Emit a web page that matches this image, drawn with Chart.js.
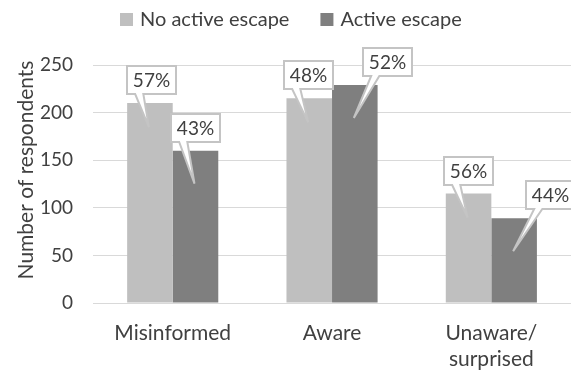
<!DOCTYPE html>
<html>
<head>
<meta charset="utf-8">
<script src="https://cdn.jsdelivr.net/npm/chart.js@4.4.1/dist/chart.umd.min.js"></script>
<style>
  html, body { margin: 0; padding: 0; background: #fff; }
</style>
</head>
<body>
<canvas id="escapeChart" width="571" height="374"></canvas>
<script>
const categories = ['Misinformed', 'Aware', ['Unaware/', 'surprised']];
const seriesNames = ['No active escape', 'Active escape'];
const noActiveEscape = [210, 215, 115];
const activeEscape = [160, 229, 89];
const yTicks = [0, 50, 100, 150, 200, 250];

const FONT = 'Lato, "Noto Sans", sans-serif';
const TEXT = '#404040';
const barColours = ['#bfbfbf', '#7f7f7f'];

// callout boxes: sideways shift per bar, and how deep the pointer reaches into the bar
const calloutShift = [[2, -1, 0], [0, 33, 36]];
const calloutDepth = [24, 33];

function share(d, i) {
  const total = noActiveEscape[i] + activeEscape[i];
  const v = d === 0 ? noActiveEscape[i] : activeEscape[i];
  return Math.round(v / total * 100) + '%';
}

const callouts = {
  id: 'callouts',
  afterDatasetsDraw(chart) {
    const ctx = chart.ctx;
    ctx.save();
    ctx.font = '19px ' + FONT;
    chart.data.datasets.forEach((ds, d) => {
      chart.getDatasetMeta(d).data.forEach((bar, i) => {
        const text = share(d, i);
        const w = Math.round(ctx.measureText(text).width + 12);
        const h = 28;
        const left = Math.round(bar.x + calloutShift[d][i] - w / 2);
        const bottom = Math.round(bar.y - 9);
        const top = bottom - h;
        const tipX = bar.x - 1, tipY = bar.y + calloutDepth[d];
        ctx.beginPath();
        ctx.moveTo(left, top);
        ctx.lineTo(left + w, top);
        ctx.lineTo(left + w, bottom);
        ctx.lineTo(left + w / 3, bottom);
        ctx.lineTo(tipX, tipY);
        ctx.lineTo(left + w / 6, bottom);
        ctx.lineTo(left, bottom);
        ctx.closePath();
        ctx.fillStyle = '#fff';
        ctx.fill();
        ctx.lineWidth = 2;
        ctx.miterLimit = 4;
        ctx.strokeStyle = '#c4c4c4';
        ctx.stroke();
        ctx.fillStyle = TEXT;
        ctx.textAlign = 'center';
        ctx.textBaseline = 'middle';
        ctx.fillText(text, left + w / 2, top + h / 2 + 1);
      });
    });
    ctx.restore();
  }
};

// legend across the top and the rotated y title
const decorations = {
  id: 'decorations',
  afterDraw(chart) {
    const ctx = chart.ctx;
    ctx.save();
    ctx.font = '20px ' + FONT;
    ctx.textBaseline = 'middle';
    const widths = seriesNames.map(s => ctx.measureText(s).width);
    const total = widths[0] + widths[1] + 2 * (13 + 7) + 31;
    let x = Math.round(291 - total / 2);
    seriesNames.forEach((name, k) => {
      ctx.fillStyle = barColours[k];
      ctx.fillRect(x, 13, 13, 13);
      ctx.fillStyle = TEXT;
      ctx.fillText(name, x + 20, 20);
      x += 20 + widths[k] + 31;
    });

    ctx.font = '21px ' + FONT;
    ctx.translate(26, 170);
    ctx.rotate(-Math.PI / 2);
    ctx.textAlign = 'center';
    ctx.fillText('Number of respondents', 0, 0);
    ctx.restore();
  }
};

function draw() {
  const ctx = document.getElementById('escapeChart').getContext('2d');
  new Chart(ctx, {
    type: 'bar',
    data: {
      labels: categories,
      datasets: [
        { label: seriesNames[0], data: noActiveEscape, backgroundColor: barColours[0] },
        { label: seriesNames[1], data: activeEscape, backgroundColor: barColours[1] }
      ]
    },
    options: {
      responsive: false,
      animation: false,
      devicePixelRatio: 1,
      categoryPercentage: 0.572,
      barPercentage: 1,
      layout: { padding: { top: 65, left: 20, right: 0, bottom: 4 } },
      plugins: {
        legend: { display: false },
        tooltip: { enabled: false }
      },
      scales: {
        x: {
          grid: { display: false, drawTicks: false },
          border: { display: false },
          afterFit: scale => { scale.height = 67; },
          ticks: {
            color: TEXT,
            font: { family: FONT, size: 21, lineHeight: 1.25 },
            padding: 17,
            maxRotation: 0,
            autoSkip: false
          }
        },
        y: {
          min: 0,
          max: yTicks[yTicks.length - 1],
          afterBuildTicks: scale => { scale.ticks = yTicks.map(v => ({ value: v })); },
          grid: { color: '#d9d9d9', drawTicks: false },
          border: { display: false },
          ticks: {
            color: TEXT,
            font: { family: FONT, size: 19 },
            padding: 20
          }
        }
      }
    },
    plugins: [callouts, decorations]
  });
}

document.fonts.load('20px Lato').then(draw, draw);
</script>
</body>
</html>
